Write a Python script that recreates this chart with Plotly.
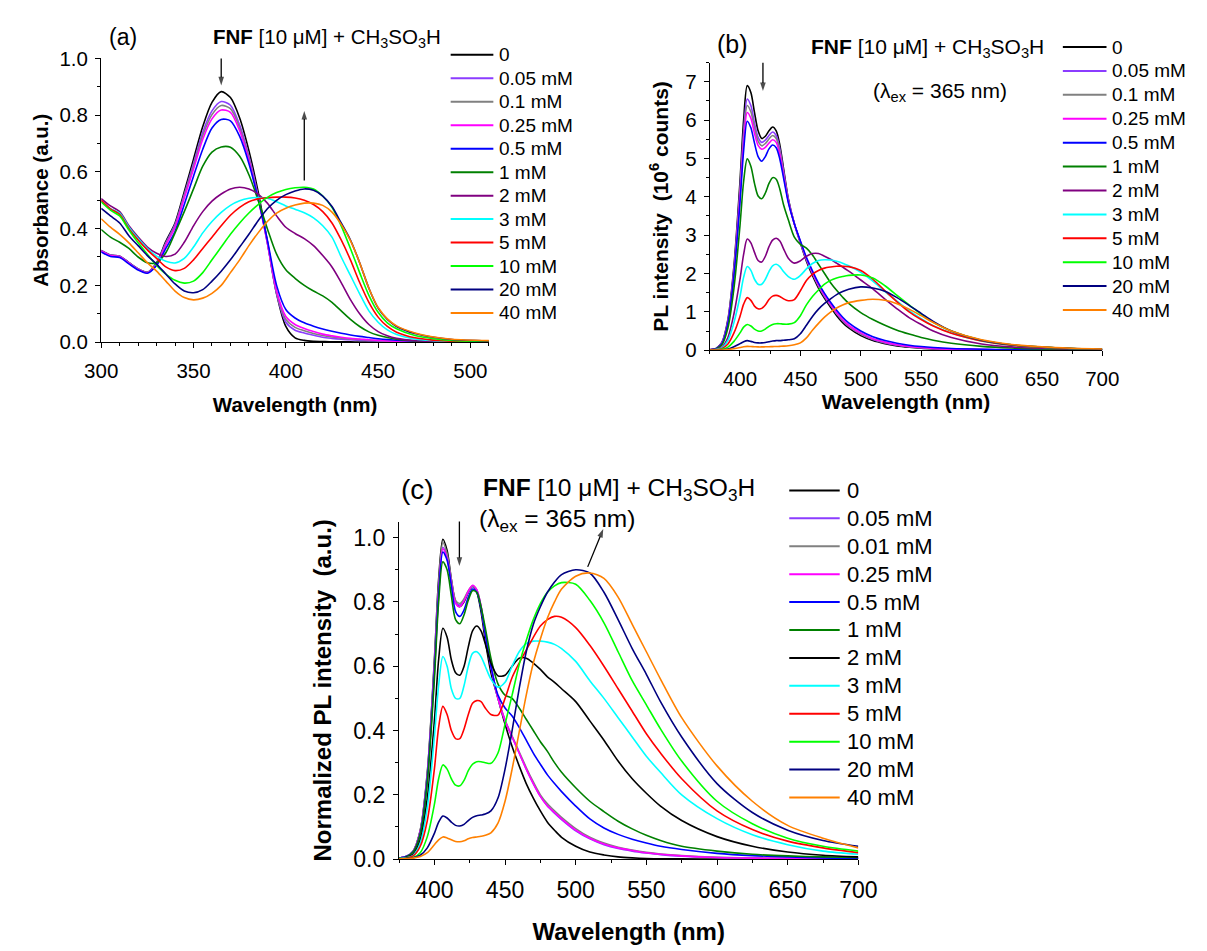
import plotly.graph_objects as go

# ---------------- data ----------------
labels_ab = ["0", "0.05 mM", "0.1 mM", "0.25 mM", "0.5 mM", "1 mM", "2 mM", "3 mM", "5 mM", "10 mM", "20 mM", "40 mM"]
labels_c = ["0", "0.05 mM", "0.01 mM", "0.25 mM", "0.5 mM", "1 mM", "2 mM", "3 mM", "5 mM", "10 mM", "20 mM", "40 mM"]
colors_ab = ["#000000", "#8B3CFF", "#808080", "#FF00FF", "#0000FF", "#008000", "#800080", "#00FFFF", "#FF0000", "#00FF00", "#000080", "#FF8000"]
colors_c = ["#000000", "#8B3CFF", "#808080", "#FF00FF", "#0000FF", "#008000", "#000000", "#00FFFF", "#FF0000", "#00FF00", "#000080", "#FF8000"]

# (a) absorbance
wl_a = [300, 305, 310, 315, 320, 325, 330, 335, 340, 345, 350, 355, 360, 365, 370, 375, 380, 385, 390, 395,
        400, 405, 410, 415, 420, 425, 430, 435, 440, 445, 450, 455, 460, 470, 480, 490, 510]
abs_0 = [.323, .307, .303, .28, .258, .246, .28, .355, .42, .53, .645, .76, .845, .883, .862, .79, .675, .53, .355, .17,
         .055, .015, .006, .003, .002, .001, .001, .001, 0, 0, 0, 0, 0, 0, 0, 0, 0]
abs_005 = [.323, .307, .303, .28, .258, .246, .278, .35, .415, .52, .63, .74, .815, .848, .835, .765, .655, .515, .35, .17,
           .07, .042, .032, .024, .017, .013, .01, .008, .006, .005, .004, .003, .002, .001, 0, 0, 0]
abs_01 = [.322, .306, .302, .279, .257, .245, .276, .346, .41, .515, .62, .728, .802, .834, .823, .755, .648, .51, .35, .175,
          .08, .052, .04, .03, .023, .018, .014, .011, .009, .007, .005, .004, .003, .002, .001, 0, 0]
abs_025 = [.321, .305, .301, .278, .256, .244, .274, .342, .405, .508, .61, .715, .787, .818, .81, .745, .64, .505, .35, .18,
           .09, .062, .048, .037, .028, .022, .017, .013, .011, .008, .006, .004, .003, .002, .001, 0, 0]
abs_05 = [.318, .302, .298, .276, .254, .243, .27, .33, .39, .485, .585, .68, .755, .785, .78, .725, .63, .505, .36, .2,
          .115, .085, .068, .056, .046, .038, .031, .025, .02, .016, .012, .009, .007, .004, .002, .001, 0]
abs_1 = [.397, .37, .352, .33, .3, .28, .28, .315, .385, .46, .54, .62, .67, .688, .687, .655, .59, .5, .4, .31,
         .255, .225, .2, .18, .163, .14, .11, .08, .055, .036, .024, .016, .01, .004, .002, .001, 0]
abs_2 = [.506, .48, .46, .41, .37, .335, .313, .302, .31, .352, .41, .46, .497, .522, .54, .546, .54, .522, .49, .445,
         .405, .383, .365, .34, .305, .265, .21, .15, .1, .062, .037, .022, .013, .005, .002, .001, 0]
abs_3 = [.498, .47, .455, .405, .365, .33, .303, .285, .279, .295, .335, .385, .425, .457, .482, .498, .507, .51, .507, .495,
         .48, .468, .456, .438, .41, .37, .3, .235, .17, .11, .07, .043, .027, .011, .005, .002, 0]
abs_5 = [.5, .47, .45, .4, .36, .325, .295, .265, .252, .26, .29, .33, .37, .41, .447, .475, .495, .505, .509, .511,
         .511, .508, .5, .485, .46, .42, .36, .29, .21, .14, .088, .055, .035, .015, .007, .003, .001]
abs_10 = [.494, .465, .445, .395, .35, .31, .27, .24, .218, .208, .215, .245, .29, .335, .38, .42, .455, .485, .51, .527,
          .538, .544, .546, .54, .515, .475, .41, .33, .245, .165, .105, .068, .047, .023, .012, .006, .002]
abs_20 = [.471, .445, .42, .375, .34, .305, .275, .24, .205, .18, .174, .185, .215, .25, .29, .335, .38, .428, .47, .5,
          .52, .533, .54, .535, .515, .478, .42, .36, .28, .19, .12, .08, .055, .03, .017, .009, .004]
abs_40 = [.435, .405, .38, .35, .315, .28, .25, .215, .18, .157, .149, .155, .172, .2, .245, .29, .34, .385, .425, .455,
          .472, .483, .49, .49, .482, .458, .415, .358, .28, .19, .122, .082, .057, .032, .018, .01, .005]
abs_series = [abs_0, abs_005, abs_01, abs_025, abs_05, abs_1, abs_2, abs_3, abs_5, abs_10, abs_20, abs_40]

# (b) PL intensity (10^6 counts) and (c) normalized PL, common wavelength grid
wl_pl = [375, 380, 385, 390, 395, 400, 403, 406, 409, 412, 415, 418, 421, 424, 427, 430, 433, 436, 440, 445, 450,
         455, 460, 465, 470, 475, 480, 485, 490, 500, 510, 520, 530, 540, 550, 560, 575, 600, 625, 650, 675, 700]
pl_0 = [.01, .04, .2, .8, 2.2, 4.4, 6.0, 6.9, 6.72, 6.2, 5.72, 5.52, 5.58, 5.72, 5.82, 5.72, 5.35, 4.75, 3.95, 3.3, 2.8,
        2.32, 1.95, 1.62, 1.35, 1.12, .9, .72, .58, .38, .25, .17, .11, .075, .05, .035, .02, .01, .005, .003, .002, .001]
pl_005 = [.01, .04, .19, .76, 2.1, 4.2, 5.7, 6.55, 6.38, 5.92, 5.55, 5.42, 5.48, 5.6, 5.69, 5.6, 5.25, 4.68, 3.92, 3.3, 2.82,
          2.36, 2.0, 1.67, 1.4, 1.17, .95, .77, .62, .42, .28, .19, .13, .09, .062, .043, .026, .013, .007, .004, .002, .001]
pl_01 = [.01, .04, .18, .74, 2.05, 4.1, 5.55, 6.38, 6.22, 5.8, 5.45, 5.33, 5.39, 5.51, 5.6, 5.52, 5.18, 4.63, 3.9, 3.29, 2.82,
         2.37, 2.01, 1.68, 1.41, 1.18, .96, .78, .63, .43, .29, .2, .135, .093, .065, .045, .027, .014, .007, .004, .002, .001]
pl_025 = [.01, .04, .18, .72, 2.0, 4.0, 5.4, 6.2, 6.05, 5.66, 5.34, 5.24, 5.29, 5.4, 5.49, 5.42, 5.1, 4.58, 3.88, 3.29, 2.83,
          2.39, 2.03, 1.7, 1.43, 1.2, .98, .8, .65, .45, .3, .21, .14, .097, .068, .047, .028, .015, .008, .004, .002, .001]
pl_05 = [.01, .04, .17, .7, 1.95, 3.85, 5.2, 5.97, 5.8, 5.4, 5.05, 4.93, 5.05, 5.25, 5.35, 5.28, 4.98, 4.5, 3.85, 3.3, 2.85,
         2.42, 2.07, 1.75, 1.48, 1.25, 1.04, .86, .71, .5, .35, .25, .18, .13, .095, .07, .045, .025, .014, .008, .005, .003]
pl_1 = [.01, .03, .14, .58, 1.62, 3.25, 4.4, 4.99, 4.8, 4.35, 4.02, 3.95, 4.1, 4.35, 4.5, 4.46, 4.2, 3.8, 3.4, 2.95, 2.76,
        2.66, 2.48, 2.24, 2.0, 1.76, 1.56, 1.38, 1.22, .98, .8, .65, .52, .42, .33, .26, .18, .1, .055, .03, .018, .01]
pl_2 = [.005, .02, .08, .33, .95, 1.85, 2.5, 2.9, 2.8, 2.55, 2.34, 2.3, 2.45, 2.7, 2.87, 2.92, 2.85, 2.65, 2.4, 2.27, 2.33,
        2.45, 2.52, 2.52, 2.45, 2.37, 2.27, 2.17, 2.06, 1.83, 1.6, 1.33, 1.08, .85, .67, .5, .33, .16, .085, .05, .03, .02]
pl_3 = [.005, .015, .06, .25, .72, 1.4, 1.9, 2.18, 2.08, 1.85, 1.72, 1.72, 1.85, 2.05, 2.2, 2.24, 2.18, 2.05, 1.92, 1.85, 1.95,
        2.12, 2.26, 2.34, 2.36, 2.35, 2.32, 2.27, 2.2, 2.03, 1.8, 1.53, 1.28, 1.03, .82, .64, .45, .24, .13, .075, .045, .025]
pl_5 = [.003, .01, .04, .16, .45, .88, 1.2, 1.37, 1.3, 1.15, 1.08, 1.09, 1.18, 1.32, 1.41, 1.43, 1.4, 1.34, 1.29, 1.32, 1.55,
        1.82, 1.98, 2.08, 2.14, 2.17, 2.19, 2.19, 2.18, 2.08, 1.85, 1.55, 1.26, 1.0, .8, .63, .44, .24, .13, .075, .045, .025]
pl_10 = [.002, .005, .02, .08, .23, .45, .6, .67, .63, .55, .5, .5, .55, .62, .67, .69, .69, .68, .68, .72, .9,
         1.18, 1.4, 1.57, 1.72, 1.82, 1.88, 1.92, 1.95, 1.96, 1.88, 1.68, 1.43, 1.18, .94, .73, .5, .26, .14, .08, .045, .025]
pl_20 = [.001, .003, .008, .03, .09, .17, .22, .25, .23, .2, .19, .19, .2, .22, .24, .25, .25, .26, .27, .3, .43,
         .65, .88, 1.07, 1.22, 1.34, 1.45, 1.53, 1.59, 1.65, 1.62, 1.54, 1.37, 1.17, .96, .75, .5, .26, .14, .08, .045, .025]
pl_40 = [.001, .002, .005, .015, .04, .07, .09, .1, .095, .09, .085, .085, .088, .09, .093, .095, .1, .105, .115, .14, .19,
         .32, .52, .7, .86, .99, 1.1, 1.18, 1.24, 1.3, 1.33, 1.3, 1.21, 1.07, .9, .72, .5, .27, .15, .085, .05, .03]
pl_series = [pl_0, pl_005, pl_01, pl_025, pl_05, pl_1, pl_2, pl_3, pl_5, pl_10, pl_20, pl_40]

n_0 = [.003, .008, .025, .09, .27, .62, .87, .995, .96, .87, .8, .785, .8, .83, .848, .83, .77, .68, .58, .5, .42,
       .35, .29, .235, .19, .15, .115, .09, .068, .04, .022, .013, .007, .004, .002, .001, .001, 0, 0, 0, 0, 0]
n_005 = [.003, .008, .024, .085, .26, .6, .84, .97, .94, .865, .8, .79, .805, .832, .848, .835, .785, .7, .6, .5, .43,
         .38, .33, .28, .235, .195, .165, .143, .123, .088, .063, .045, .033, .025, .019, .014, .009, .005, .003, .002, .001, .001]
n_001 = [.003, .008, .025, .088, .265, .61, .855, .985, .95, .87, .805, .795, .81, .835, .85, .837, .787, .702, .602, .502, .433,
         .383, .334, .285, .24, .2, .172, .15, .13, .095, .068, .05, .037, .028, .021, .016, .011, .006, .004, .002, .001, .001]
n_025 = [.003, .008, .024, .085, .255, .59, .83, .965, .935, .86, .795, .785, .803, .833, .852, .838, .787, .7, .6, .5, .43,
         .38, .33, .28, .235, .195, .165, .145, .125, .09, .065, .047, .035, .027, .02, .015, .01, .005, .003, .002, .001, .001]
n_05 = [.003, .008, .023, .08, .25, .58, .82, .955, .93, .85, .77, .755, .775, .815, .84, .83, .78, .7, .6, .51, .47,
        .445, .41, .37, .33, .295, .262, .235, .21, .165, .125, .097, .077, .062, .05, .04, .03, .018, .011, .007, .004, .003]
n_1 = [.003, .007, .022, .078, .24, .56, .8, .925, .9, .82, .745, .732, .76, .805, .835, .83, .785, .72, .625, .545, .51,
       .5, .47, .435, .4, .365, .335, .3, .27, .222, .18, .148, .118, .094, .074, .058, .04, .025, .015, .01, .007, .005]
n_2 = [.002, .005, .015, .06, .19, .43, .62, .718, .69, .62, .58, .572, .6, .66, .71, .725, .71, .67, .61, .57, .572,
       .6, .625, .625, .61, .59, .567, .55, .53, .49, .43, .37, .305, .25, .205, .165, .12, .07, .04, .022, .012, .007]
n_3 = [.002, .004, .012, .05, .16, .38, .54, .63, .6, .53, .5, .5, .54, .6, .64, .645, .63, .6, .56, .535, .55,
       .6, .645, .67, .678, .678, .675, .668, .655, .615, .555, .5, .44, .38, .32, .27, .2, .126, .076, .045, .025, .015]
n_5 = [.001, .003, .01, .04, .12, .28, .41, .475, .45, .4, .375, .375, .405, .45, .485, .493, .49, .47, .45, .448, .5,
       .565, .61, .65, .69, .725, .745, .755, .752, .72, .665, .6, .53, .46, .39, .33, .25, .15, .092, .056, .035, .02]
n_10 = [.001, .002, .005, .02, .07, .17, .25, .293, .28, .25, .23, .228, .245, .275, .295, .303, .303, .3, .298, .33, .42,
        .51, .605, .68, .745, .795, .83, .85, .86, .855, .805, .735, .645, .555, .48, .405, .305, .18, .11, .065, .04, .025]
n_20 = [.001, .002, .004, .012, .035, .08, .115, .134, .128, .115, .105, .103, .108, .12, .13, .135, .137, .14, .15, .19, .28,
        .4, .53, .645, .73, .785, .83, .862, .885, .9, .89, .83, .745, .655, .575, .49, .38, .235, .145, .09, .058, .04]
n_40 = [.001, .001, .003, .008, .02, .045, .06, .069, .066, .06, .055, .054, .057, .063, .067, .069, .071, .074, .082, .112, .18,
        .28, .395, .51, .61, .685, .75, .8, .84, .88, .89, .873, .815, .73, .645, .56, .44, .29, .18, .105, .065, .035]
norm_series = [n_0, n_005, n_001, n_025, n_05, n_1, n_2, n_3, n_5, n_10, n_20, n_40]

# guide arrows of the figure: (x-axis, y-axis, tail x, tail y, head x, head y) in data units
arrows = [
    ("x", "y", 365, 1.007, 365, 0.905),
    ("x", "y", 410, 0.57, 410, 0.815),
    ("x2", "y2", 419, 7.83, 419, 6.76),
    ("x3", "y3", 417.7, 1.076, 417.7, 0.912),
    ("x3", "y3", 508.5, 0.909, 519.5, 1.027),
]

# ---------------- figure ----------------
W, H = 1207, 951
FONT = "Arial, Liberation Sans, sans-serif"


def px_x(px):
    return px / W


def px_y(py):
    return 1 - py / H


fig = go.Figure()

panels = [
    dict(xa="x", ya="y", wl=wl_a, series=abs_series, colors=colors_ab, labels=labels_ab),
    dict(xa="x2", ya="y2", wl=wl_pl, series=pl_series, colors=colors_ab, labels=labels_ab),
    dict(xa="x3", ya="y3", wl=wl_pl, series=norm_series, colors=colors_c, labels=labels_c),
]
for p in panels:
    for s, c, name in zip(p["series"], p["colors"], p["labels"]):
        fig.add_trace(go.Scatter(x=p["wl"], y=s, mode="lines", name=name, xaxis=p["xa"], yaxis=p["ya"],
                                 line=dict(color=c, width=1.6, shape="spline", smoothing=0.8),
                                 showlegend=False, hoverinfo="skip"))

for xr, yr, tx, ty, hx, hy in arrows:
    fig.add_trace(go.Scatter(x=[tx, hx], y=[ty, hy], mode="lines+markers", xaxis=xr, yaxis=yr,
                             line=dict(color="black", width=1.3), cliponaxis=False,
                             marker=dict(symbol=["circle", "arrow"], size=[0, 9], angleref="previous",
                                         color="black", line=dict(width=0)),
                             showlegend=False, hoverinfo="skip"))


def axis(domain, rng, dtick, minor_dtick, tick0, fs, title, title_fs, standoff, anchor, tls, fmt=None):
    d = dict(domain=domain, range=rng, dtick=dtick, tick0=tick0, showgrid=False, zeroline=False,
             showline=True, linecolor="black", linewidth=1.3, ticks="outside", ticklen=5, tickwidth=1.3,
             tickcolor="black", tickfont=dict(family=FONT, size=fs, color="black"), anchor=anchor,
             ticklabelstandoff=tls,
             minor=dict(dtick=minor_dtick, tick0=tick0, ticks="outside", ticklen=3, tickwidth=1.2, tickcolor="black", showgrid=False),
             title=dict(text=title, font=dict(family=FONT, size=title_fs, color="black"), standoff=standoff))
    if fmt:
        d["tickformat"] = fmt
    return d


fig.update_layout(
    width=W, height=H, margin=dict(l=0, r=0, t=0, b=0), paper_bgcolor="white", plot_bgcolor="white",
    xaxis=axis([px_x(86.8), px_x(486.4)], [300, 510], 50, 10, 300, 20.5, "<b>Wavelength (nm)</b>", 20.5, 16, "y", 5),
    yaxis=axis([px_y(339), px_y(47.7)], [0, 1.0], 0.2, 0.1, 0, 20.5, "<b>Absorbance (a.u.)</b>", 20.5, 5, "x", 3, ".1f"),
    xaxis2=axis([px_x(714.1), px_x(1118.7)], [375, 700], 50, 25, 0, 20.5, "<b>Wavelength (nm)</b>", 21, 5, "y2", 5),
    yaxis2=axis([px_y(347.3), px_y(52.0)], [0, 7.5], 1, 0.5, 0, 20.5, "<b>PL intensity\u00a0 (10<sup>6</sup> counts)</b>", 21, 10, "x2", 3),
    xaxis3=axis([px_x(393.8), px_x(867.2)], [375, 700], 50, 25, 0, 23, "<b>Wavelength (nm)</b>", 24, 21, "y3", 5),
    yaxis3=axis([px_y(870), px_y(523.3)], [0, 1.05], 0.2, 0.1, 0, 23, "<b>Normalized PL intensity\u00a0 (a.u.)</b>", 24, 14, "x3", 3, ".1f"),
)

anns = []
shapes = []

# manual legends (sample line + label)
legend_specs = [
    dict(labels=labels_ab, colors=colors_ab, x0=447, x1=491, tx=495, y0=44, dy=24.1, fs=19),
    dict(labels=labels_ab, colors=colors_ab, x0=1078, x1=1123, tx=1127, y0=36, dy=24.55, fs=19),
    dict(labels=labels_c, colors=colors_c, x0=796, x1=848, tx=853, y0=491.3, dy=28.67, fs=22),
]
for spec in legend_specs:
    for i, (lab, col) in enumerate(zip(spec["labels"], spec["colors"])):
        yy = spec["y0"] + i * spec["dy"]
        shapes.append(dict(type="line", xref="paper", yref="paper", x0=px_x(spec["x0"]), x1=px_x(spec["x1"]),
                           y0=px_y(yy), y1=px_y(yy), line=dict(color=col, width=2)))
        anns.append(dict(text=lab, xref="paper", yref="paper", x=px_x(spec["tx"]), y=px_y(yy), xanchor="left",
                         yanchor="middle", showarrow=False, font=dict(family=FONT, size=spec["fs"], color="black")))

# panel labels and captions
title_txt = "<b>FNF</b> [10 \u03bcM] + CH<sub>3</sub>SO<sub>3</sub>H"
lam_txt = "(\u03bb<sub>ex</sub> = 365 nm)"
texts = [
    ("(a)", 93, 26, 23), (title_txt, 200, 27, 20.5),
    ("(b)", 719, 33, 25), (title_txt, 816, 37, 21), (lam_txt, 880, 82, 21),
    ("(c)", 394, 490, 28), (title_txt, 478, 490, 24.5), (lam_txt, 474, 522, 24.5),
]
for t, x, y, fs in texts:
    anns.append(dict(text=t, xref="paper", yref="paper", x=px_x(x), y=px_y(y), xanchor="left", yanchor="middle",
                     showarrow=False, font=dict(family=FONT, size=fs, color="black")))

fig.update_layout(annotations=anns, shapes=shapes)
fig.write_html("out.html")
